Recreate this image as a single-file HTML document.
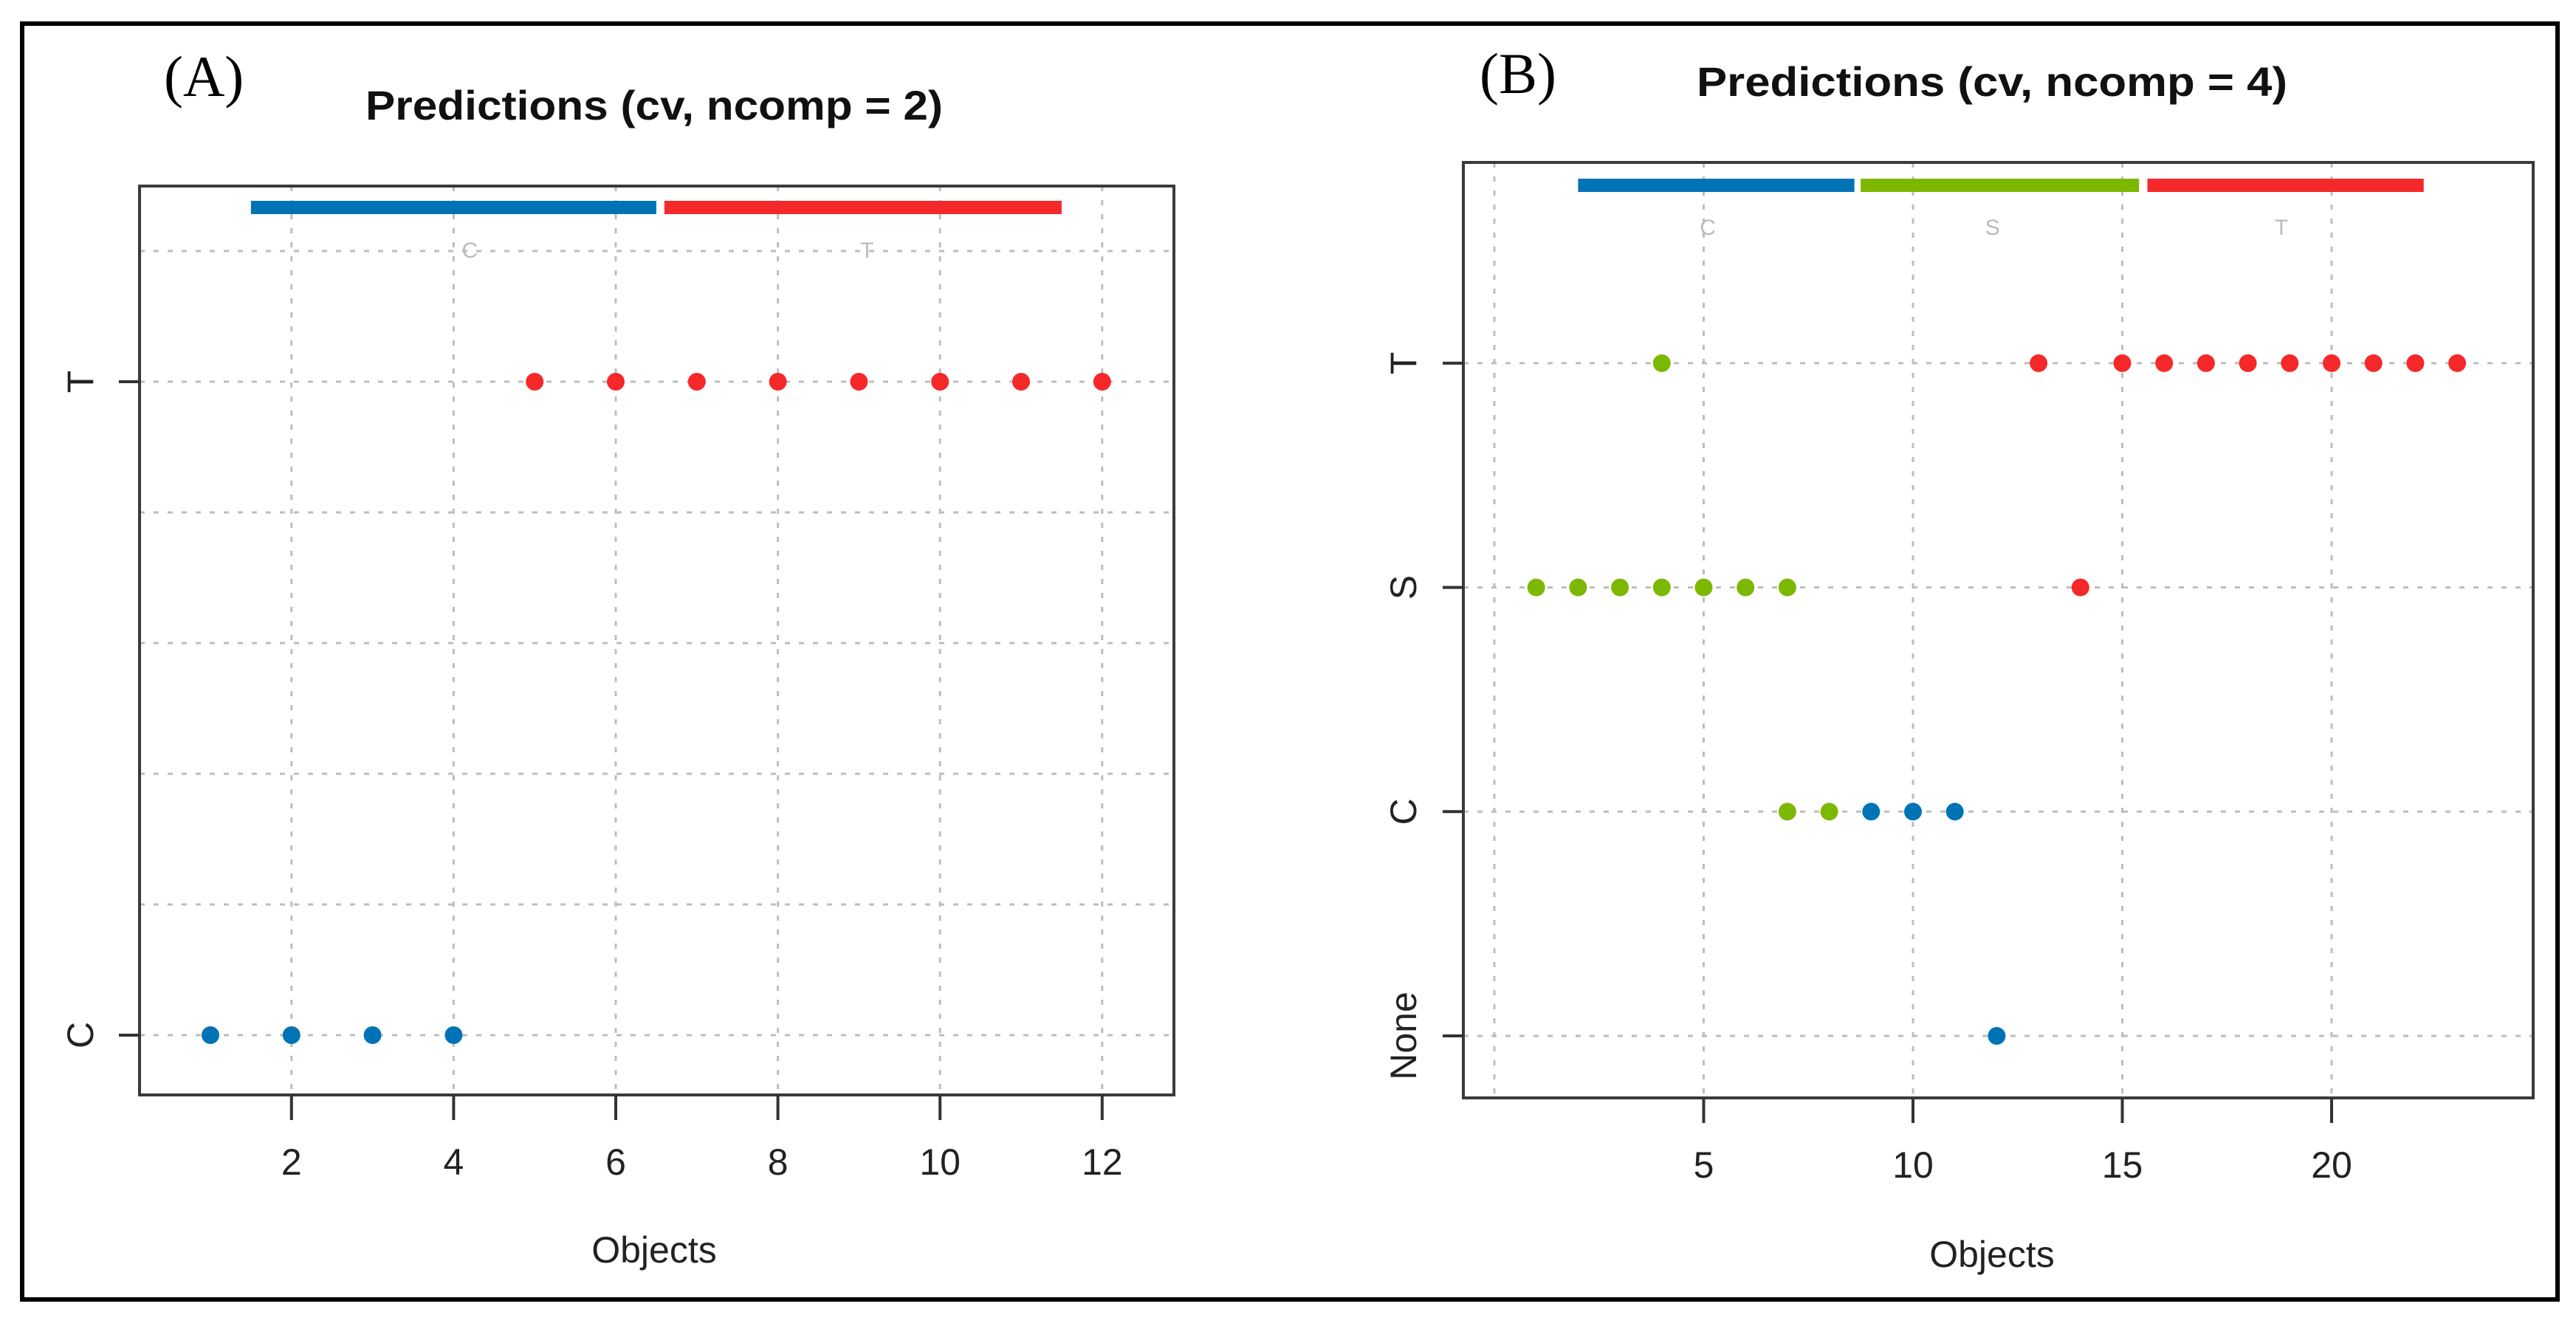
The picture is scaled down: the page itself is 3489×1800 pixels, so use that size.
<!DOCTYPE html>
<html><head><meta charset="utf-8"><style>
html,body{margin:0;padding:0;background:#fff}
svg{display:block}
text{font-family:"Liberation Sans",sans-serif;fill:#222}
</style></head><body>
<svg id="chart" width="3489" height="1800" viewBox="0 0 3489 1800" xmlns="http://www.w3.org/2000/svg">
<rect x="30" y="32" width="3434" height="1728" fill="#fff" stroke="#000" stroke-width="6"/>
<g id="pA"></g>
<g id="pB"></g>
</svg>
<script>
// Panel A data
const aLevels = ["C", "T"];
const aXTicks = [2, 4, 6, 8, 10, 12];
const aYGrid = [1.0, 1.2, 1.4, 1.6, 1.8, 2.0, 2.2];
const aObjX = [1,2,3,4,5,6,7,8,9,10,11,12];
const aPred = [1,1,1,1,2,2,2,2,2,2,2,2];
const aColor = ["blue","blue","blue","blue","red","red","red","red","red","red","red","red"];
const aBarClass = ["C", "T"];
const aBarStart = [1.5, 6.6];
const aBarEnd = [6.5, 11.5];
const aBarColor = ["blue", "red"];
const aBarLabelX = [4.2, 9.1];

// Panel B data
const bLevels = ["None", "C", "S", "T"];
const bXTicks = [5, 10, 15, 20];
const bXGrid = [0, 5, 10, 15, 20];
const bObjX = [4,13,15,16,17,18,19,20,21,22,23, 1,2,3,4,5,6,7,14, 7,8,9,10,11, 12];
const bPred = [4,4,4,4,4,4,4,4,4,4,4, 3,3,3,3,3,3,3,3, 2,2,2,2,2, 1];
const bColor = ["green","red","red","red","red","red","red","red","red","red","red",
 "green","green","green","green","green","green","green","red",
 "green","green","blue","blue","blue","blue"];
const bBarClass = ["C", "S", "T"];
const bBarStart = [2.0, 8.75, 15.6];
const bBarEnd = [8.6, 15.4, 22.2];
const bBarColor = ["blue", "green", "red"];
const bBarLabelX = [5.1, 11.9, 18.8];

const COLORS = {blue:"#0073B6", red:"#F5282A", green:"#7DB800"};
const NS = "http://www.w3.org/2000/svg";
function mk(parent, tag, attrs, txt){
  const e = document.createElementNS(NS, tag);
  for (const k in attrs) e.setAttribute(k, attrs[k]);
  if (txt !== undefined) e.textContent = txt;
  parent.appendChild(e);
  return e;
}

function drawPanel(g, cfg){
  const xs = v => cfg.x0 + (v - cfg.xv0) * cfg.xu;
  const ys = v => cfg.y0 - (v - cfg.yv0) * cfg.yu;
  const b = cfg.box;
  cfg.xGrid.forEach(v => {
    const l = mk(g, "line", {x1:xs(v), x2:xs(v), y1:b.t, y2:b.b, stroke:"#bdbdbd", "stroke-width":3, "stroke-dasharray":"7 12"});
    
    
  });
  cfg.yGrid.forEach(v => {
    const l = mk(g, "line", {x1:b.l, x2:b.r, y1:ys(v), y2:ys(v), stroke:"#bdbdbd", "stroke-width":3, "stroke-dasharray":"7 12"});
    
    
  });
  cfg.barStart.forEach((s, i) => {
    const r = mk(g, "rect", {x:xs(s), y:cfg.barY - 9, width:xs(cfg.barEnd[i]) - xs(s), height:18, fill:COLORS[cfg.barColor[i]]});
    
    
    const t = mk(g, "text", {x:xs(cfg.barLabelX[i]), y:cfg.barLabelY + 10, "font-size":30, "text-anchor":"middle", style:"fill:#bbb"}, cfg.barClass[i]);
    
    
  });
  cfg.objX.forEach((v, i) => {
    const c = mk(g, "circle", {cx:xs(v), cy:ys(cfg.pred[i]), r:12, fill:COLORS[cfg.color[i]]});
    
    
  });
  const bx = mk(g, "rect", {x:b.l, y:b.t, width:b.r - b.l, height:b.b - b.t, fill:"none", stroke:"#3a3a3a", "stroke-width":4});
  
  
  cfg.xTicks.forEach(v => {
    const l = mk(g, "line", {x1:xs(v), x2:xs(v), y1:b.b, y2:b.b + 34, stroke:"#333", "stroke-width":4});
    
    
    const t = mk(g, "text", {x:xs(v), y:b.b + 108, "font-size":50, "text-anchor":"middle"}, String(v));
    
    
  });
  cfg.levels.forEach((lab, i) => {
    const y = ys(i + 1);
    const l = mk(g, "line", {x1:b.l - 28, x2:b.l, y1:y, y2:y, stroke:"#333", "stroke-width":4});
    
    
    const t = mk(g, "text", {x:0, y:0, "font-size":50, "text-anchor":"middle", transform:"translate(" + (cfg.yLabX + 18) + "," + y + ") rotate(-90)"}, lab);
    
    
  });
  const ttl = mk(g, "text", {x:cfg.titleX, y:cfg.titleY, "font-size":56, "font-weight":"bold", "text-anchor":"middle", textLength:cfg.titleW, lengthAdjust:"spacingAndGlyphs", style:"fill:#111"}, cfg.title);
  
  
  const xl = mk(g, "text", {x:cfg.titleX, y:cfg.xTitleY, "font-size":50, "text-anchor":"middle"}, "Objects");
  
  
  const pl = mk(g, "text", {x:cfg.tagX, y:cfg.tagY, "font-size":78, style:"font-family:'Liberation Serif',serif;fill:#000"}, cfg.tag);
  
  
}

drawPanel(document.getElementById("pA"), {
  box:{l:189, r:1590, t:252, b:1483},
  x0:285, xv0:1, xu:109.8, y0:1402, yv0:1, yu:885,
  xGrid:aXTicks, yGrid:aYGrid, xTicks:aXTicks, levels:aLevels,
  objX:aObjX, pred:aPred, color:aColor,
  barStart:aBarStart, barEnd:aBarEnd, barColor:aBarColor, barClass:aBarClass, barLabelX:aBarLabelX,
  barY:281, barLabelY:339, yLabX:108,
  title:"Predictions (cv, ncomp = 2)", titleW:782, titleX:886, titleY:162, xTitleY:1710,
  tag:"(A)", tagX:222, tagY:130
});
drawPanel(document.getElementById("pB"), {
  box:{l:1982, r:3431, t:220, b:1487},
  x0:2024, xv0:0, xu:56.7, y0:1403, yv0:1, yu:303.7,
  xGrid:bXGrid, yGrid:[1,2,3,4], xTicks:bXTicks, levels:bLevels,
  objX:bObjX, pred:bPred, color:bColor,
  barStart:bBarStart, barEnd:bBarEnd, barColor:bBarColor, barClass:bBarClass, barLabelX:bBarLabelX,
  barY:251, barLabelY:308, yLabX:1900,
  title:"Predictions (cv, ncomp = 4)", titleW:800, titleX:2698, titleY:130, xTitleY:1716,
  tag:"(B)", tagX:2004, tagY:126
});
</script>
</body></html>
